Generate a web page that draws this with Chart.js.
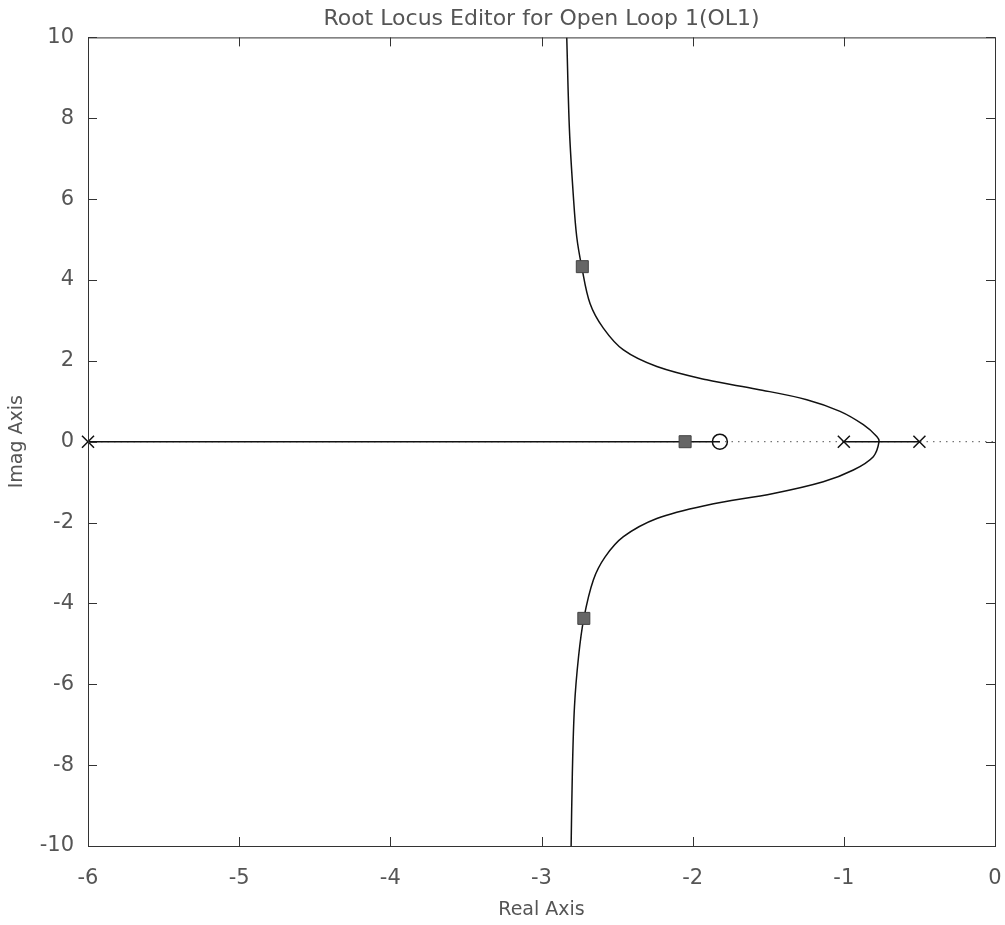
<!DOCTYPE html>
<html>
<head>
<meta charset="utf-8">
<script src="https://cdn.jsdelivr.net/npm/chart.js@4"></script>
<style>
  body { margin: 0; background: #fff; }
</style>
</head>
<body>
<canvas id="locus" width="1005" height="925"></canvas>
<script>
// tick values on each axis
const xTicks = [-6, -5, -4, -3, -2, -1, 0];
const yTicks = [-10, -8, -6, -4, -2, 0, 2, 4, 6, 8, 10];

// open loop poles and zero
const poleX = [-6, -1, -0.5];
const poleY = [0, 0, 0];
const zeroX = [-1.82];
const zeroY = [0];

// closed loop poles (square markers)
const clPoleX = [-2.05, -2.73, -2.72];
const clPoleY = [0, 4.33, -4.37];

// real axis locus segments
const realSeg1X = [-6, -1.82];
const realSeg2X = [-1, -0.5];

// complex branches (both start at the breakaway point)
const upperX = [-0.767, -0.782, -0.871, -1.025, -1.245, -1.576, -1.907, -2.237, -2.458, -2.591, -2.679, -2.734, -2.767, -2.789, -2.815, -2.833];
const upperY = [0, 0.13, 0.42, 0.75, 1.04, 1.30, 1.53, 1.86, 2.27, 2.81, 3.42, 4.33, 5.07, 6.06, 7.70, 10];
const lowerX = [-0.767, -0.805, -0.937, -1.136, -1.466, -1.907, -2.237, -2.458, -2.579, -2.657, -2.72, -2.755, -2.782, -2.796, -2.804];
const lowerY = [0, -0.37, -0.70, -0.99, -1.28, -1.57, -1.90, -2.35, -2.85, -3.42, -4.37, -5.32, -6.56, -8.21, -10];

const pts = (xs, ys) => xs.map((x, i) => ({ x: x, y: ys[i] }));
// one continuous curve: bottom end -> breakaway -> top end
const branchPts = pts(lowerX, lowerY).reverse().concat(pts(upperX, upperY).slice(1));

const TEXT = '#555';
const FONT = '"DejaVu Sans", Verdana, sans-serif';

// frame plus inward ticks on all four sides
const boxTicks = {
    id: 'boxTicks',
    afterDraw(chart) {
        const { ctx, chartArea: a, scales } = chart;
        const len = 9;
        ctx.save();
        ctx.strokeStyle = '#333';
        ctx.lineWidth = 1;
        ctx.strokeRect(a.left + 0.5, a.top + 0.5, a.right - a.left, a.bottom - a.top);
        ctx.beginPath();
        xTicks.forEach(v => {
            const px = Math.round(scales.x.getPixelForValue(v)) + 0.5;
            ctx.moveTo(px, a.bottom); ctx.lineTo(px, a.bottom - len);
            ctx.moveTo(px, a.top); ctx.lineTo(px, a.top + len);
        });
        yTicks.forEach(v => {
            const py = Math.round(scales.y.getPixelForValue(v)) + 0.5;
            ctx.moveTo(a.left, py); ctx.lineTo(a.left + len, py);
            ctx.moveTo(a.right, py); ctx.lineTo(a.right - len, py);
        });
        ctx.stroke();
        ctx.restore();
    }
};

new Chart(document.getElementById('locus').getContext('2d'), {
    type: 'scatter',
    data: {
        datasets: [
            {
                // poles
                data: pts(poleX, poleY),
                pointStyle: 'crossRot',
                pointRadius: 8.5,
                pointBorderWidth: 1.5,
                borderColor: '#111',
                showLine: false,
                clip: false,
                order: 0
            },
            {
                // zero
                data: pts(zeroX, zeroY),
                pointStyle: 'circle',
                pointRadius: 7.5,
                pointBorderWidth: 1.5,
                borderColor: '#111',
                backgroundColor: 'rgba(255,255,255,0)',
                showLine: false,
                order: 0
            },
            {
                // closed loop poles
                data: pts(clPoleX, clPoleY),
                pointStyle: 'rect',
                pointRadius: 8.5,
                pointBorderWidth: 1,
                borderColor: '#444',
                backgroundColor: '#666',
                showLine: false,
                order: 1
            },
            {
                data: branchPts,
                showLine: true,
                borderColor: '#111',
                borderWidth: 1.5,
                pointRadius: 0,
                tension: 0.35,
                order: 2
            },
            {
                data: pts(realSeg1X, [0, 0]),
                showLine: true,
                borderColor: '#111',
                borderWidth: 1.5,
                pointRadius: 0,
                order: 2
            },
            {
                data: pts(realSeg2X, [0, 0]),
                showLine: true,
                borderColor: '#111',
                borderWidth: 1.5,
                pointRadius: 0,
                order: 2
            },
            {
                // dotted real axis
                data: pts([xTicks[0], xTicks[xTicks.length - 1]], [0, 0]),
                showLine: true,
                borderColor: '#555',
                borderWidth: 1,
                borderDash: [1.5, 5],
                pointRadius: 0,
                order: 3
            }
        ]
    },
    options: {
        responsive: false,
        animation: false,
        layout: { padding: { top: 1, right: 10, left: 0, bottom: 0 } },
        plugins: {
            legend: { display: false },
            tooltip: { enabled: false },
            title: {
                display: true,
                fullSize: false,
                text: 'Root Locus Editor for Open Loop 1(OL1)',
                color: TEXT,
                font: { family: FONT, size: 22, weight: 'normal', lineHeight: 1.2 },
                padding: { top: 5, bottom: 5 }
            }
        },
        scales: {
            x: {
                type: 'linear',
                min: -6,
                max: 0,
                afterBuildTicks: s => { s.ticks = xTicks.map(v => ({ value: v })); },
                afterFit: s => { s.height = 79; s.paddingLeft = 0; s.paddingRight = 0; },
                grid: { display: false, drawTicks: false },
                border: { display: false },
                ticks: {
                    color: TEXT,
                    padding: 20,
                    font: { family: FONT, size: 21 },
                    callback: v => String(v)
                },
                title: {
                    display: true,
                    text: 'Real Axis',
                    color: TEXT,
                    font: { family: FONT, size: 19, lineHeight: 1.2 },
                    padding: { top: 0, bottom: 4 }
                }
            },
            y: {
                type: 'linear',
                min: -10,
                max: 10,
                afterBuildTicks: s => { s.ticks = yTicks.map(v => ({ value: v })); },
                afterFit: s => { s.width = 88; s.paddingTop = 0; s.paddingBottom = 0; },
                grid: { display: false, drawTicks: false },
                border: { display: false },
                ticks: {
                    color: TEXT,
                    padding: 14,
                    font: { family: FONT, size: 21 },
                    callback: v => String(v)
                },
                title: {
                    display: true,
                    text: 'Imag Axis',
                    color: TEXT,
                    font: { family: FONT, size: 19, lineHeight: 1.2 },
                    padding: { top: 6, bottom: 0 }
                }
            }
        }
    },
    plugins: [boxTicks]
});
</script>
</body>
</html>
